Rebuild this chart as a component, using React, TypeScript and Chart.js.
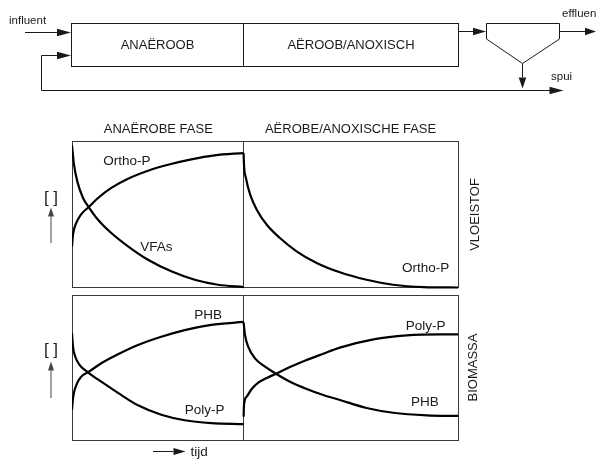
import React, { useEffect, useRef } from "react";
import { Chart, registerables } from "chart.js";

Chart.register(...registerables);

// ---- data (x: tijd 0..100 across both phases, y: relative concentration 0..100) ----
const PHASE_SPLIT = 44.4;

const orthoPAnaX = [0, 0.26, 1.11, 2.41, 4.32, 6.73, 10.17, 14.49, 19.66, 24.84, 30.86, 36.92, 44.4];
const orthoPAnaY = [28.2, 36.2, 44.2, 50.3, 55.1, 61.3, 68.2, 74.5, 80.0, 84.1, 87.8, 90.5, 92.1];
const orthoPAerX = [44.4, 44.5, 45.0, 46.1, 47.8, 50.4, 53.8, 58.1, 63.3, 69.3, 76.2, 83.1, 90.9, 100];
const orthoPAerY = [92.1, 84.1, 75.0, 63.6, 53.3, 43.0, 33.9, 24.8, 16.8, 10.4, 5.3, 1.9, 0.3, 0];
const vfaX = [0, 0.52, 1.37, 2.85, 4.32, 6.73, 10.17, 14.49, 19.66, 25.69, 31.75, 37.77, 44.4];
const vfaY = [97.4, 84.1, 72.7, 61.3, 55.1, 46.4, 37.3, 28.2, 19.0, 11.1, 5.3, 1.9, 0.3];

const phbAnaX = [0, 0.26, 1.11, 2.41, 4.14, 7.58, 11.9, 17.08, 23.1, 29.16, 36.04, 44.4];
const phbAnaY = [20.7, 28.8, 37.9, 43.7, 46.7, 52.9, 59.1, 65.5, 71.2, 75.8, 79.4, 81.4];
const polyPAnaX = [0, 0.26, 0.85, 1.99, 4.14, 7.58, 11.9, 17.08, 23.1, 29.16, 36.04, 44.4];
const polyPAnaY = [73.6, 64.3, 57.4, 51.7, 46.7, 40.2, 32.5, 23.9, 17.4, 13.6, 11.7, 11.0];
const phbAerX = [44.4, 44.76, 45.61, 47.35, 49.94, 52.78, 56.4, 60.72, 65.02, 69.34, 76.2, 83.1, 91.8, 100];
const phbAerY = [81.2, 72.4, 64.3, 56.3, 50.6, 45.7, 40.2, 35.2, 31.0, 27.6, 22.1, 18.8, 17.0, 16.6];
const polyPAerX = [44.4, 44.5, 45.2, 46.5, 48.2, 50.4, 52.8, 56.4, 60.7, 65.0, 69.3, 78.0, 86.6, 95.2, 100];
const polyPAerY = [16.1, 24.1, 29.9, 35.2, 39.5, 42.8, 45.7, 50.3, 55.2, 59.5, 63.7, 69.4, 72.2, 72.9, 72.9];

// curve labels, in data coordinates
const labelTexts = ["Ortho-P", "VFAs", "Ortho-P", "PHB", "Poly-P", "Poly-P", "PHB"];
const labelX = [14.2, 21.8, 91.5, 35.2, 34.3, 91.5, 91.3];
const labelY = [86.4, 27.5, 13.4, 86.0, 20.5, 78.4, 26.2];
const labelPanel = ["yTop", "yTop", "yTop", "yBot", "yBot", "yBot", "yBot"];

const phaseTitles = ["ANAËROBE FASE", "AËROBE/ANOXISCHE FASE"];
const reactorTitles = ["ANAËROOB", "AËROOB/ANOXISCH"];
const panelTitles = ["VLOEISTOF", "BIOMASSA"];

// ---- layout ----
const W = 596;
const H = 459;
const AREA_L = 72;
const AREA_R = 458.5;
const AREA_T = 141.5;
const AREA_B = 440;
const TOP_PANEL_B = 287.5;
const BOT_PANEL_T = 295;
const TOP_MIN = -((AREA_B - TOP_PANEL_B) / (TOP_PANEL_B - AREA_T)) * 100;
const BOT_MAX = 100 + ((BOT_PANEL_T - AREA_T) / (AREA_B - BOT_PANEL_T)) * 100;

const FONT = "'Liberation Sans', Arial, sans-serif";
const INK = "#1a1a1a";

const zip = (xs: number[], ys: number[]) => xs.map((x, i) => ({ x, y: ys[i] }));

function arrow(ctx: CanvasRenderingContext2D, x1: number, y1: number, x2: number, y2: number, len = 13, half = 3.8, color = INK) {
  const a = Math.atan2(y2 - y1, x2 - x1);
  const bx = x2 - Math.cos(a) * len;
  const by = y2 - Math.sin(a) * len;
  ctx.save();
  ctx.strokeStyle = color;
  ctx.fillStyle = color;
  ctx.lineWidth = 1;
  ctx.beginPath();
  ctx.moveTo(x1, y1);
  ctx.lineTo(bx, by);
  ctx.stroke();
  ctx.beginPath();
  ctx.moveTo(x2, y2);
  ctx.lineTo(bx + Math.sin(a) * half, by - Math.cos(a) * half);
  ctx.lineTo(bx - Math.sin(a) * half, by + Math.cos(a) * half);
  ctx.closePath();
  ctx.fill();
  ctx.restore();
}

function text(ctx: CanvasRenderingContext2D, s: string, x: number, y: number, size: number, align: CanvasTextAlign = "center", rot = 0) {
  ctx.save();
  ctx.fillStyle = INK;
  ctx.font = `${size}px ${FONT}`;
  ctx.textAlign = align;
  ctx.textBaseline = "middle";
  ctx.translate(x, y);
  if (rot) ctx.rotate(rot);
  ctx.fillText(s, 0, 0);
  ctx.restore();
}

const diagramPlugin = {
  id: "diagram",
  beforeDatasetsDraw(chart: any) {
    const ctx: CanvasRenderingContext2D = chart.ctx;
    const x = chart.scales.x;
    const crisp = (v: number) => Math.floor(v) + 0.5;
    ctx.save();
    ctx.strokeStyle = "#3a3a3a";
    ctx.lineWidth = 1;
    ["yTop", "yBot"].forEach((id) => {
      const y = chart.scales[id];
      const l = crisp(x.getPixelForValue(0));
      const r = crisp(x.getPixelForValue(100));
      const t = crisp(y.getPixelForValue(100));
      const b = crisp(y.getPixelForValue(0));
      const m = crisp(x.getPixelForValue(PHASE_SPLIT));
      ctx.strokeRect(l, t, r - l, b - t);
      ctx.beginPath();
      ctx.moveTo(m, t);
      ctx.lineTo(m, b);
      ctx.stroke();
    });
    ctx.restore();
  },
  afterDraw(chart: any) {
    const ctx: CanvasRenderingContext2D = chart.ctx;
    const x = chart.scales.x;

    // curve labels
    labelTexts.forEach((s, i) => {
      const y = chart.scales[labelPanel[i]];
      text(ctx, s, x.getPixelForValue(labelX[i]), y.getPixelForValue(labelY[i]), 13.5);
    });

    // phase titles
    const l = x.getPixelForValue(0);
    const m = x.getPixelForValue(PHASE_SPLIT);
    const r = x.getPixelForValue(100);
    text(ctx, phaseTitles[0], (l + m) / 2 + 0.5, 129, 13);
    text(ctx, phaseTitles[1], (m + r) / 2 - 0.5, 129, 13);

    // side titles
    const yT = chart.scales.yTop;
    const yB = chart.scales.yBot;
    text(ctx, panelTitles[0], 475, (yT.getPixelForValue(0) + yT.getPixelForValue(100)) / 2, 13, "center", -Math.PI / 2);
    text(ctx, panelTitles[1], 473, (yB.getPixelForValue(0) + yB.getPixelForValue(100)) / 2, 13, "center", -Math.PI / 2);

    // concentration indicators
    text(ctx, "[ ]", 51, 198, 17);
    arrow(ctx, 51, 243, 51, 207.5, 9, 3, "#444");
    text(ctx, "[ ]", 51, 350.5, 17);
    arrow(ctx, 51, 398, 51, 361.5, 9, 3, "#444");

    // time indicator
    arrow(ctx, 153, 451.5, 185.5, 451.5, 12, 3.5);
    text(ctx, "tijd", 190.5, 452.5, 13.5, "left");

    // ---- process flow diagram ----
    ctx.save();
    ctx.strokeStyle = INK;
    ctx.lineWidth = 1;
    // reactor box
    ctx.strokeRect(71.5, 23.5, 387, 43);
    ctx.beginPath();
    ctx.moveTo(243.5, 23.5);
    ctx.lineTo(243.5, 66.5);
    ctx.stroke();
    // recycle line
    ctx.beginPath();
    ctx.moveTo(41.5, 55.5);
    ctx.lineTo(41.5, 90.5);
    ctx.lineTo(550, 90.5);
    ctx.stroke();
    // clarifier
    ctx.beginPath();
    ctx.moveTo(486.5, 39);
    ctx.lineTo(486.5, 23.5);
    ctx.lineTo(559.5, 23.5);
    ctx.lineTo(559.5, 39);
    ctx.lineTo(522.5, 63.5);
    ctx.closePath();
    ctx.stroke();
    ctx.restore();

    text(ctx, reactorTitles[0], 157.5, 45, 13);
    text(ctx, reactorTitles[1], 351, 45, 13);

    arrow(ctx, 25, 32.5, 71, 32.5, 14, 3.8);
    arrow(ctx, 41.5, 55.5, 71, 55.5, 14, 3.8);
    arrow(ctx, 458.5, 31.5, 486, 31.5, 13, 3.8);
    arrow(ctx, 559.5, 31.5, 596, 31.5, 11, 3.8);
    arrow(ctx, 522.5, 63.5, 522.5, 88.5, 11, 3.8);
    arrow(ctx, 540, 90.5, 563.5, 90.5, 14, 3.8);

    text(ctx, "influent", 9, 20.5, 11.5, "left");
    text(ctx, "effluent", 562, 14, 11.5, "left");
    text(ctx, "spui", 551, 76.5, 11.5, "left");
  },
};

export default function App() {
  const ref = useRef<HTMLCanvasElement>(null);

  useEffect(() => {
    if (!ref.current) return;
    const line = (label: string, xs: number[], ys: number[], axis: string) => ({
      label,
      data: zip(xs, ys),
      yAxisID: axis,
      borderColor: "#000",
      borderWidth: 2.2,
      pointRadius: 0,
      fill: false,
      cubicInterpolationMode: "monotone" as const,
    });
    const chart = new Chart(ref.current, {
      type: "line",
      data: {
        datasets: [
          line("Ortho-P (anaëroob)", orthoPAnaX, orthoPAnaY, "yTop"),
          line("Ortho-P (aëroob)", orthoPAerX, orthoPAerY, "yTop"),
          line("VFAs", vfaX, vfaY, "yTop"),
          line("PHB (anaëroob)", phbAnaX, phbAnaY, "yBot"),
          line("Poly-P (anaëroob)", polyPAnaX, polyPAnaY, "yBot"),
          line("PHB (aëroob)", phbAerX, phbAerY, "yBot"),
          line("Poly-P (aëroob)", polyPAerX, polyPAerY, "yBot"),
        ],
      },
      options: {
        responsive: false,
        animation: false,
        devicePixelRatio: 1,
        layout: {
          padding: { left: AREA_L, right: W - AREA_R, top: AREA_T, bottom: H - AREA_B },
        },
        scales: {
          x: { type: "linear", min: 0, max: 100, display: false },
          yTop: { type: "linear", min: TOP_MIN, max: 100, display: false },
          yBot: { type: "linear", min: 0, max: BOT_MAX, display: false },
        },
        plugins: {
          legend: { display: false },
          tooltip: { enabled: false },
        },
      },
      plugins: [diagramPlugin],
    });
    return () => chart.destroy();
  }, []);

  return (
    <div style={{ position: "fixed", left: 0, top: 0, width: W, height: H, background: "#fff" }}>
      <canvas ref={ref} width={W} height={H} style={{ display: "block", width: W, height: H }} />
    </div>
  );
}
